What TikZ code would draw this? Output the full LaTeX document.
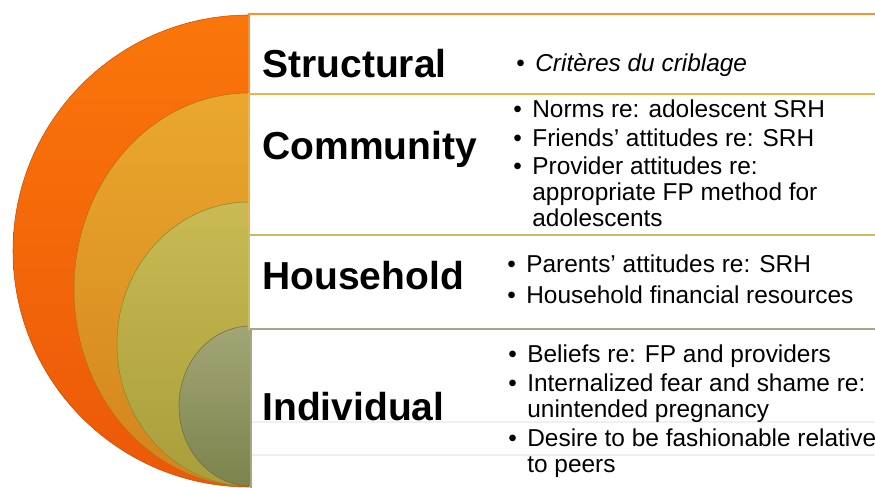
\documentclass[tikz,border=0pt]{standalone}
\usepackage{fontspec}
\setmainfont{Liberation Sans}
\definecolor{OrangeTop}{HTML}{FA760A}
\definecolor{OrangeBot}{HTML}{EC5808}
\definecolor{GoldTop}{HTML}{EAA82E}
\definecolor{GoldBot}{HTML}{D3841C}
\definecolor{OliveTop}{HTML}{C9BA54}
\definecolor{OliveBot}{HTML}{A89E3A}
\definecolor{SageTop}{HTML}{A2A676}
\definecolor{SageBot}{HTML}{7C834C}
\definecolor{OrangeLine}{HTML}{F59038}
\definecolor{GoldLine}{HTML}{EEB24C}
\definecolor{OliveLine}{HTML}{C8BC66}
\definecolor{SageLine}{HTML}{A4A686}
\definecolor{Haze}{HTML}{F4EFE9}
\newlength{\bulw}
\setlength{\bulw}{0.38cm}
\newcommand{\bul}{\makebox[\bulw][l]{\textbullet}}
\newcommand{\cont}{\hspace*{\bulw}}
\tikzset{
  ring/.style={line width=.3pt},
  layer/.style={fill=white,line width=.6pt},
  head/.style={anchor=base west,inner sep=0pt,font=\fontsize{22.2}{26}\selectfont\bfseries},
  % multi-line lists sit on the baseline of their last line
  lst/.style={anchor=base west,inner sep=0pt,align=left,font=\fontsize{13.9}{14.8}\selectfont}
}
\begin{document}
\begin{tikzpicture}[x=0.02cm,y=0.02cm]
  \useasboundingbox (0,0) rectangle (875,487);
  \clip (0,0) rectangle (875,487);
  % nested half discs, outermost first
  \shade[ring,top color=OrangeTop,bottom color=OrangeBot,draw=OrangeBot!85!black]
    (249,472) arc[start angle=90,end angle=270,x radius=236,y radius=236] -- cycle;
  \shade[ring,top color=GoldTop,bottom color=GoldBot,draw=GoldBot!85!black]
    (249,394) arc[start angle=90,end angle=270,x radius=175,y radius=196.5] -- cycle;
  \shade[ring,top color=OliveTop,bottom color=OliveBot,draw=OliveBot!85!black]
    (249,285) arc[start angle=90,end angle=270,x radius=132,y radius=142] -- cycle;
  \shade[ring,top color=SageTop,bottom color=SageBot,draw=SageBot!85!black]
    (251,161) arc[start angle=90,end angle=270,x radius=72,y radius=80] -- cycle;

  % one band per level
  \draw[layer,draw=OrangeLine] (249,473) rectangle (880,393);
  \draw[layer,draw=GoldLine] (249,393) rectangle (880,252);
  \draw[layer,draw=OliveLine] (249,252) rectangle (880,158);
  \draw[layer,draw=SageLine] (251,158) rectangle (880,-3);
  \draw[Haze,line width=.6pt] (252,65) -- (880,65);
  \draw[Haze,line width=.6pt] (252,32) -- (880,32);

  % level names
  \node[head] (structural) at (262,409) {Structural};
  \node[head] (community) at (262,327) {Community};
  \node[head] (household) at (262,197) {Household};
  \node[head] (individual) at (262,67) {Individual};

  % factors
  \node[lst] (structural-list) at (516,415) {\bul\textit{Critères du criblage}};
  \node[lst] (community-list) at (513,260) {%
    \bul Norms re: adolescent SRH\\[1.7pt]
    \bul Friends’ attitudes re: SRH\\[1.7pt]
    \bul Provider attitudes re:\\
    \cont appropriate FP method for\\
    \cont adolescents};
  \node[lst] (household-list) at (507,183) {%
    \bul Parents’ attitudes re: SRH\\[3pt]
    \bul Household financial resources};
  \node[lst] (individual-list) at (508,15) {%
    \bul Beliefs re: FP and providers\\[1.7pt]
    \bul Internalized fear and shame re:\\
    \cont unintended pregnancy\\[1.7pt]
    \bul Desire to be fashionable relative\\
    \cont to peers};
\end{tikzpicture}
\end{document}
